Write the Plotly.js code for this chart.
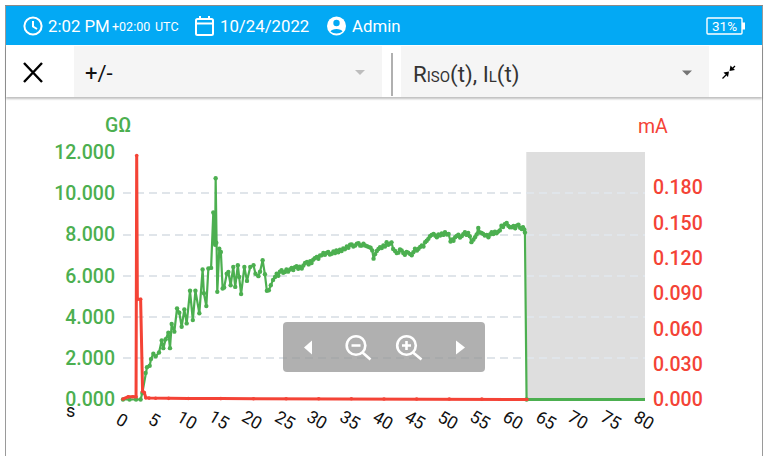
<!DOCTYPE html>
<html><head><meta charset="utf-8">
<script src="https://cdn.plot.ly/plotly-3.0.1.min.js"></script>
<style>
html,body{margin:0;padding:0;background:#fff;overflow:hidden}
#wrap{position:relative;width:766px;height:456px;font-family:Roboto,sans-serif}
#plot{position:absolute;left:0;top:0;width:766px;height:456px}
.a{position:absolute;white-space:nowrap}
.t{color:#fff;font-size:16.8px;line-height:20px;top:15.5px}
svg{position:absolute;overflow:visible}
</style></head><body>
<div id="wrap">
<div id="plot"></div>
<div class="a" style="left:5px;top:5px;width:1px;height:451px;background:#9a9a9a"></div>
<div class="a" style="left:762px;top:5px;width:1px;height:451px;background:#9a9a9a"></div>
<div class="a" style="left:5px;top:5px;width:758px;height:1px;background:#8a8a8a"></div>
<div class="a" style="left:6px;top:6px;width:756px;height:39px;background:#03a9f4"></div>
<div class="a" style="left:6px;top:45px;width:756px;height:52px;background:#fff;box-shadow:0 2px 2px rgba(0,0,0,.25)"></div>
<div class="a" style="left:74px;top:46px;width:308px;height:51px;background:#f5f5f5"></div>
<div class="a" style="left:401px;top:46px;width:308px;height:51px;background:#f5f5f5"></div>
<div class="a" style="left:391px;top:53px;width:2px;height:43px;background:#b0b0b0"></div>

<svg style="left:0;top:0" width="766" height="100">
 <g fill="none" stroke="#fff" stroke-width="2">
  <circle cx="33" cy="26" r="8.6"/><path d="M33 21v5.5l4 2.5"/>
  <rect x="196" y="19" width="17" height="16" rx="1.5"/><path d="M196 23.5h17M200 16v4M209 16v4"/>
  <rect x="707" y="18" width="35" height="16" rx="1" stroke-width="1.4"/>
 </g>
 <circle cx="336.500" cy="26" r="9.500" fill="#fff"/>
 <circle cx="336.500" cy="23" r="3.200" fill="#03a9f4"/>
 <path d="M330.500 31.500c1-3.500 11-3.500 12 0c-3 2.500-9 2.500-12 0z" fill="#03a9f4"/>
 <rect x="742" y="22.500" width="3" height="7" fill="#fff"/>
 <path d="M24 63L42 82M42 63L24 82" stroke="#000" stroke-width="2.400" fill="none"/>
 <path d="M355 70h10l-5 5z" fill="#bdbdbd"/>
 <path d="M682 70.500h10l-5 5z" fill="#757575"/>
 <path d="M722.500 78.500L726 75M735 66L731.500 69.500" stroke="#000" stroke-width="1.300" fill="none"/>
 <path d="M729 71.500L723.500 72.500L728 77zM729.500 71L735 70L730.500 65.500z" fill="#000"/>
</svg>

<div class="a t" style="left:48px">2:02 PM</div>
<div class="a t" style="left:112px;font-size:12.500px;top:17px">+02:00</div>
<div class="a t" style="left:155px;font-size:12.500px;top:17px">UTC</div>
<div class="a t" style="left:220px">10/24/2022</div>
<div class="a t" style="left:352px">Admin</div>
<div class="a" style="left:712px;top:18.500px;color:#fff;font-size:13.500px;line-height:15px">31%</div>
<div class="a" style="left:85px;top:62px;font-size:22px;line-height:24px;color:#111">+/-</div>
<div class="a" style="left:413px;top:62px;font-size:22.300px;line-height:24px;color:#333">R<span style="font-size:15px">ISO</span>(t), I<span style="font-size:15px">L</span>(t)</div>

<div class="a" style="left:283px;top:322px;width:202px;height:50px;border-radius:4px;background:rgba(150,150,150,.75)"></div>
<svg style="left:0;top:0" width="766" height="456">
 <path d="M312 340.500v14l-8-7z" fill="#fff"/><path d="M456 340.500v14l9-7z" fill="#fff"/>
 <g fill="none" stroke="#fff" stroke-width="2.600">
  <circle cx="356" cy="345.500" r="9.300"/><path d="M362.500 352.500l8 7M351.500 345.500h9"/>
  <circle cx="406.500" cy="345.500" r="9.300"/><path d="M413 352.500l8.500 7M402 345.500h9M406.500 341v9"/>
 </g>
</svg>
</div>
<script>
// Insulation resistance, GΩ, against time in seconds
var rTime = [0,1,2,2.7,2.96,3.47,3.68,4.09,4.29,4.65,5.0,5.52,5.93,6.18,6.54,6.95,7.2,7.46,7.87,8.28,8.63,8.99,9.4,9.76,10.27,10.7,11.1,11.7,12.2,12.4,12.77,13.08,13.5,13.84,13.95,14.05,14.12,14.2,14.3,14.45,14.76,15.0,15.27,15.5,15.9,16.15,16.5,16.9,17.2,17.6,17.8,18.1,18.6,19.0,19.5,20.0,20.3,20.75,21.0,21.4,21.75,22.05,22.35,22.65,23.0,23.3,23.55,23.8,24.05,24.3,24.55,24.8,25.05,25.3,25.6,25.85,26.1,26.35,26.6,26.85,27.1,27.4,27.65,27.9,28.2,28.45,28.7,28.9,29.15,29.4,29.7,29.95,30.2,30.45,30.7,30.95,31.2,31.45,31.7,32,32.25,32.5,32.7,33,33.25,33.5,33.75,34,34.3,34.55,34.8,35.05,35.3,35.6,35.85,36.1,36.35,36.6,36.85,37.1,37.4,37.7,37.95,38.2,38.4,38.65,38.9,39.15,39.4,39.65,39.9,40.15,40.4,40.65,40.9,41.15,41.4,41.7,41.95,42.2,42.45,42.7,42.95,43.2,43.45,43.7,44,44.25,44.5,44.75,45.05,45.3,45.55,45.8,46.05,46.3,46.55,46.8,47.05,47.3,47.6,47.85,48.1,48.35,48.6,48.85,49.1,49.35,49.65,49.9,50.2,50.45,50.65,50.9,51.15,51.4,51.65,51.9,52.15,52.4,52.65,52.9,53.15,53.4,53.7,53.95,54.2,54.45,54.7,54.95,55.2,55.45,55.75,56,56.25,56.5,56.75,57,57.25,57.5,57.75,58,58.25,58.5,58.8,59.05,59.3,59.6,59.85,60.1,60.35,60.6,60.85,61.1,61.3,61.5,61.6,61.85];
var rIso = [0,0,0,0,0.32,1.29,1.57,1.64,1.96,2.22,2.09,2.28,2.86,2.49,2.92,3.24,2.49,3.66,3.29,4.42,4.21,3.53,4.37,3.69,5.27,3.85,5.27,4.18,6.3,5.15,4.53,6.35,6.38,9.07,7.6,9.0,7.5,10.73,7.6,5.22,7.31,7.15,5.38,5.43,6.1,6.18,5.54,6.43,5.46,6.51,5.94,5.11,6.43,5.75,6.43,6.51,6.1,5.98,6.2,6.75,6.07,5.27,5.3,5.54,5.8,5.94,6.1,6.0,6.2,6.27,6.14,6.18,6.3,6.2,6.3,6.38,6.28,6.42,6.46,6.34,6.44,6.35,6.5,6.62,6.67,6.55,6.7,6.62,6.78,6.85,6.91,6.82,6.98,6.99,7.1,7.02,7.1,7.16,7.03,7.07,7.18,7.1,7.23,7.14,7.26,7.2,7.32,7.28,7.42,7.36,7.5,7.52,7.42,7.47,7.56,7.58,7.46,7.47,7.55,7.47,7.43,7.39,7.36,7.23,6.83,7.05,7.2,7.3,7.39,7.34,7.47,7.42,7.63,7.5,7.55,7.62,7.3,7.2,7.1,7.12,7.28,7.23,7.1,7.02,7.16,7.12,7.05,6.99,7.14,7.31,7.22,7.31,7.4,7.47,7.42,7.63,7.7,7.79,7.92,7.98,8.03,7.95,7.87,8.0,7.95,8.05,7.98,8.11,8.0,8.03,7.66,7.76,7.7,7.87,7.93,7.99,7.85,7.92,8.02,8.11,7.98,8.08,7.92,7.63,7.75,7.87,8.0,8.32,8.1,8.08,8.03,7.95,7.98,7.87,8.0,8.11,8.02,8.14,8.06,8.14,8.2,8.43,8.36,8.5,8.56,8.42,8.35,8.35,8.42,8.3,8.43,8.48,8.33,8.27,8.36,8.24,8.1,0];
// Zero reading after the measurement stops
var tailTime = [61.85,80];
var tailIso = [0,0];
// Leakage current, mA, against time in seconds
var iTime = [0,0.8,1.5,2.0,2.1,2.2,2.7,3.0,3.26,3.5,4,5,7,10,15,20,25,30,35,40,45,50,55,61.9];
var iLeak = [0.0005,0.0023,0.0023,0.0023,0.207,0.085,0.085,0.007,0.006,0.0014,0.0012,0.0011,0.001,0.0009,0.0008,0.0007,0.0006,0.0006,0.0006,0.0005,0.0005,0.0005,0.0005,0];
var xTicks = [0,5,10,15,20,25,30,35,40,45,50,55,60,65,70,75,80];
var leftTicks = [0,2,4,6,8,10,12];
var gridTicks = [2,4,6,8,10];
var rightTicks = [0,0.03,0.06,0.09,0.12,0.15,0.18];
var shadedFrom = 61.8, shadedTo = 80;
var leftRange = [-0.12,12];
var rightRange = [-0.0021,0.21];

var green='#4caf50', red='#f44336';
var notes = [
  {text:'GΩ',xref:'paper',yref:'paper',x:-0.01,y:1.1056,xanchor:'center',yanchor:'middle',showarrow:false,font:{size:19.5,color:green,weight:500}},
  {text:'mA',xref:'paper',yref:'paper',x:1.015,y:1.1016,xanchor:'center',yanchor:'middle',showarrow:false,font:{size:19.5,color:red}},
  {text:'s',xref:'paper',yref:'paper',x:-0.1,y:-0.034,xanchor:'center',yanchor:'middle',showarrow:false,font:{size:18,color:'#111'}}
];
xTicks.forEach(function(v){
  notes.push({text:String(v),xref:'x',yref:'paper',x:v,y:-0.0737,xanchor:'center',yanchor:'middle',xshift:-1.5,
    textangle:30,showarrow:false,font:{size:17.5,color:'#111'}});
});
Plotly.newPlot('plot',[
 {x:[0],y:[0],type:'scatter',mode:'lines',yaxis:'y3',hoverinfo:'skip',line:{width:0}},
 {x:tailTime,y:tailIso,type:'scatter',mode:'lines',yaxis:'y',cliponaxis:false,line:{color:green,width:3}},
 {x:rTime,y:rIso,type:'scatter',mode:'lines+markers',yaxis:'y',cliponaxis:false,
  line:{color:green,width:2.2},marker:{color:green,size:4.4}},
 {x:iTime,y:iLeak,type:'scatter',mode:'lines+markers',yaxis:'y2',cliponaxis:false,
  line:{color:red,width:3},marker:{color:red,size:3.6}}
],{
 width:766,height:456,showlegend:false,
 margin:{l:123,r:121,t:151.5,b:53.5,pad:0},
 paper_bgcolor:'rgba(0,0,0,0)',plot_bgcolor:'rgba(0,0,0,0)',
 font:{family:'Roboto, sans-serif'},
 xaxis:{range:[0,80],tickmode:'array',tickvals:xTicks,showticklabels:false,
  showgrid:false,zeroline:false,showline:false,ticks:'',automargin:false},
 yaxis:{range:leftRange,tickmode:'array',tickvals:leftTicks,ticktext:leftTicks.map(function(v){return v.toFixed(3)}),
  showgrid:false,zeroline:false,showline:false,ticks:'',tickfont:{size:19.5,color:green,weight:500},ticklabelstandoff:7,automargin:false},
 yaxis2:{range:rightRange,overlaying:'y',side:'right',tickmode:'array',tickvals:rightTicks,ticktext:rightTicks.map(function(v){return v.toFixed(3)}),
  showgrid:false,zeroline:false,showline:false,ticks:'',tickfont:{size:19.5,color:red,weight:500},ticklabelstandoff:7,automargin:false},
 yaxis3:{range:leftRange,overlaying:'y',side:'left',tickmode:'array',tickvals:gridTicks,showticklabels:false,
  showgrid:true,griddash:'8px,5px',gridcolor:'#e0e5ea',gridwidth:2,zeroline:false,showline:false,ticks:''},
 shapes:[{type:'rect',xref:'x',yref:'y',x0:shadedFrom,x1:shadedTo,y0:0,y1:12,fillcolor:'rgba(0,0,0,0.13)',line:{width:0},layer:'below'}],
 annotations:notes
},{staticPlot:true,displayModeBar:false});
</script>
</body></html>
